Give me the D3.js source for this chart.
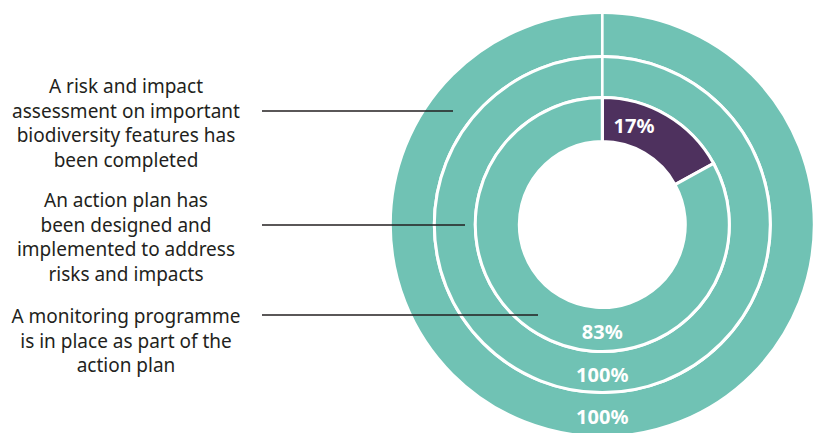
<!DOCTYPE html>
<html>
  <head>
    <meta charset="utf-8">
    <style>
      body { margin: 0; background: #fff; }
      .label { font-family: "Noto Sans", sans-serif; font-size: 19px; fill: #231f20; }
      .value { font-family: "Noto Sans", sans-serif; font-size: 20px; font-weight: bold; fill: #fff; }
    </style>
  </head>
  <body>
    <svg width="819" height="433"></svg>
    <script src="https://cdn.jsdelivr.net/npm/d3@7"></script>
    <script>
      // rings from outside to inside
      var ringNames = ["risk", "action", "monitoring"];
      var riskValues = [100];
      var actionValues = [100];
      var monitoringValues = [17, 83];
      var ringLabels = [
        ["A risk and impact", "assessment on important", "biodiversity features has", "been completed"],
        ["An action plan has", "been designed and", "implemented to address", "risks and impacts"],
        ["A monitoring programme", "is in place as part of the", "action plan"]
      ];
      var valueLabels = [["100%"], ["100%"], ["17%", "83%"]];

      var svg = d3.select("svg");
      var cx = 602.3, cy = 224.6;
      var teal = "#70c2b4", purple = "#4e315e";

      // ring radii (outer -> inner), edges are covered by white strokes
      var radii = [[168, 212], [127, 168], [83, 127]];
      var rings = [riskValues, actionValues, monitoringValues];

      var pie = d3.pie().sort(null).value(d => d);
      var g = svg.append("g").attr("transform", `translate(${cx},${cy})`);

      rings.forEach(function(vals, i) {
        var arc = d3.arc().innerRadius(radii[i][0]).outerRadius(radii[i][1]);
        g.append("g").attr("class", "ring-" + ringNames[i])
          .selectAll("path")
          .data(pie(vals))
          .join("path")
          .attr("d", arc)
          .attr("fill", (d, j) => (vals.length > 1 && j == 0) ? purple : teal)
          .attr("stroke", "#fff")
          .attr("stroke-width", 3);
      });

      // white seam at 12 o'clock through all rings
      g.append("line")
        .attr("x1", 0).attr("x2", 0)
        .attr("y1", -radii[2][0]).attr("y2", -radii[0][1])
        .attr("stroke", "#fff").attr("stroke-width", 2.7);

      // value labels
      rings.forEach(function(vals, i) {
        var mid = (radii[i][0] + radii[i][1]) / 2 + 2;
        pie(vals).forEach(function(d, j) {
          var ang, r;
          if (vals.length > 1 && j == 0) { ang = 0.31; r = 104; }
          else { ang = Math.PI; r = mid; }
          g.append("text")
            .attr("class", "value")
            .attr("x", r * Math.sin(ang))
            .attr("y", -r * Math.cos(ang))
            .attr("text-anchor", "middle")
            .attr("dominant-baseline", "central")
            .text(valueLabels[i][j]);
        });
      });

      // category labels with leader lines
      var labelTop = [86, 200, 316];
      var leaderY = [111, 225, 315];
      var leaderEnd = [453, 465, 538];
      ringLabels.forEach(function(lines, i) {
        var t = svg.append("text")
          .attr("class", "label")
          .attr("text-anchor", "middle");
        lines.forEach(function(s, k) {
          t.append("tspan")
            .attr("x", 126)
            .attr("y", labelTop[i] + k * 24.5)
            .attr("dominant-baseline", "central")
            .text(s);
        });
        svg.append("line")
          .attr("x1", 262).attr("x2", leaderEnd[i])
          .attr("y1", leaderY[i]).attr("y2", leaderY[i])
          .attr("stroke", "#231f20").attr("stroke-width", 1.3);
      });
    </script>
  </body>
</html>
